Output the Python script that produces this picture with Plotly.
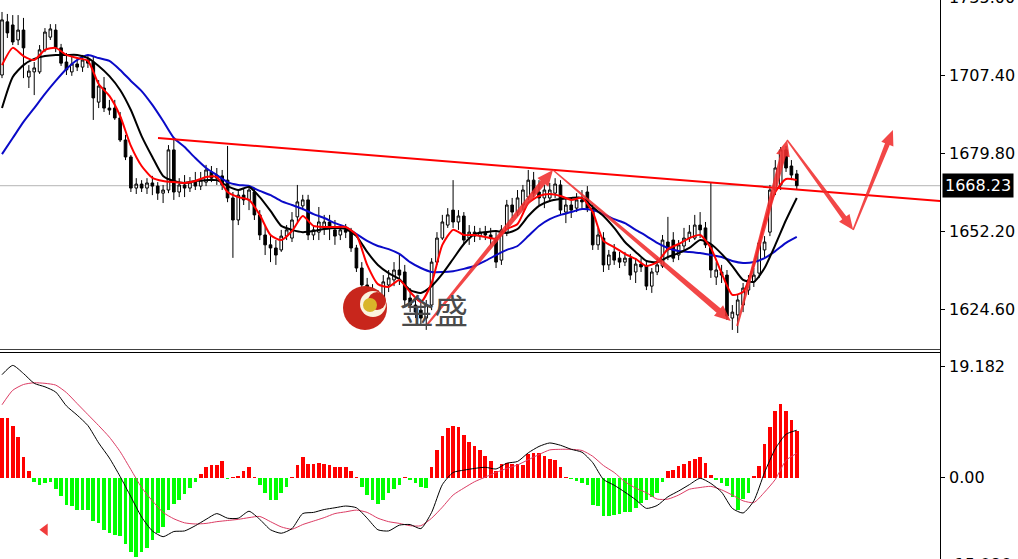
import math
import plotly.graph_objects as go

# ---------------- data ----------------
bar_index = list(range(149))

opens = [1707.4, 1726.2, 1725.1, 1719.8, 1723.3, 1706.7, 1708.5, 1708.5, 1716.3, 1720.8,
         1723.3, 1717.0, 1712.0, 1708.5, 1711.3, 1710.2, 1712.7, 1712.0, 1697.8, 1702.8,
         1695.7, 1695.7, 1692.2, 1684.4, 1678.4, 1667.4, 1668.8, 1667.4, 1669.2, 1668.1,
         1665.6, 1666.7, 1680.9, 1666.0, 1668.5, 1667.4, 1669.5, 1668.1, 1669.5, 1673.1,
         1670.9, 1671.7, 1670.2, 1663.9, 1656.1, 1664.9, 1663.2, 1666.0, 1657.9, 1650.8,
         1647.3, 1646.2, 1645.5, 1650.4, 1649.7, 1657.2, 1661.1, 1663.2, 1650.8, 1651.8,
         1653.3, 1655.4, 1652.6, 1650.8, 1652.6, 1651.8, 1646.2, 1639.1, 1633.1, 1631.3,
         1627.8, 1626.0, 1633.1, 1634.9, 1638.4, 1637.7, 1628.5, 1626.0, 1624.2, 1621.4,
         1626.0, 1641.2, 1649.7, 1654.3, 1659.6, 1655.4, 1657.5, 1649.7, 1651.8, 1650.4,
         1651.8, 1650.8, 1649.7, 1641.9, 1651.8, 1661.4, 1658.9, 1661.4, 1664.2, 1670.2,
         1666.0, 1663.9, 1663.9, 1665.6, 1668.5, 1658.9, 1661.4, 1660.3, 1663.2, 1666.0,
         1660.3, 1647.3, 1649.7, 1640.2, 1644.8, 1642.6, 1641.2, 1642.6, 1637.7, 1640.5,
         1639.8, 1632.7, 1637.7, 1639.8, 1648.3, 1649.0, 1643.7, 1646.9, 1649.7, 1649.7,
         1654.3, 1653.3, 1646.9, 1635.9, 1637.7, 1636.6, 1621.4, 1622.5, 1626.0, 1631.3,
         1634.2, 1637.3, 1645.5, 1651.8, 1666.7, 1668.5, 1680.9, 1675.2, 1672.4]

highs = [1729.7, 1729.0, 1728.6, 1728.6, 1727.6, 1710.9, 1712.0, 1718.0, 1724.0, 1725.4,
         1725.4, 1718.4, 1715.2, 1713.8, 1713.4, 1714.5, 1714.5, 1713.8, 1705.6, 1706.7,
         1698.6, 1698.6, 1694.3, 1686.2, 1679.1, 1670.9, 1670.2, 1670.9, 1671.7, 1669.5,
         1668.5, 1682.6, 1684.4, 1670.9, 1672.0, 1671.3, 1673.1, 1673.1, 1675.6, 1675.2,
         1674.5, 1673.8, 1682.3, 1666.0, 1666.7, 1667.4, 1668.5, 1667.4, 1659.6, 1654.3,
         1650.4, 1649.0, 1652.6, 1654.3, 1658.9, 1668.5, 1665.0, 1665.0, 1654.3, 1660.7,
         1657.9, 1657.9, 1656.1, 1654.3, 1654.7, 1653.3, 1647.3, 1641.2, 1635.6, 1633.4,
         1631.3, 1636.6, 1638.4, 1641.2, 1644.4, 1640.2, 1632.0, 1628.5, 1627.8, 1627.8,
         1642.6, 1651.8, 1657.9, 1660.3, 1670.2, 1659.6, 1658.9, 1654.3, 1654.0, 1653.3,
         1654.0, 1653.3, 1651.8, 1654.3, 1663.2, 1663.9, 1666.7, 1668.5, 1673.8, 1673.1,
         1670.2, 1668.5, 1669.2, 1670.9, 1670.2, 1664.2, 1663.9, 1665.6, 1666.7, 1668.1,
         1661.4, 1653.3, 1651.8, 1645.5, 1647.6, 1644.8, 1644.8, 1644.1, 1642.6, 1642.6,
         1641.2, 1639.1, 1642.6, 1650.8, 1657.2, 1651.8, 1649.0, 1653.3, 1654.3, 1657.9,
         1658.9, 1655.4, 1669.2, 1641.2, 1640.2, 1638.4, 1626.0, 1629.6, 1633.8, 1636.6,
         1639.1, 1649.0, 1650.4, 1668.5, 1677.3, 1681.9, 1682.3, 1677.3, 1673.8]

lows = [1706.3, 1720.5, 1718.0, 1718.0, 1706.3, 1702.8, 1700.3, 1707.8, 1715.5, 1719.8,
        1715.5, 1710.6, 1707.4, 1707.1, 1708.8, 1708.5, 1709.9, 1691.5, 1695.7, 1694.3,
        1693.3, 1691.5, 1683.7, 1677.3, 1666.0, 1665.3, 1666.0, 1665.3, 1664.9, 1663.2,
        1662.1, 1665.6, 1663.2, 1664.2, 1664.2, 1666.0, 1666.7, 1666.7, 1668.1, 1669.5,
        1668.5, 1666.7, 1662.4, 1642.7, 1654.3, 1661.4, 1659.6, 1656.1, 1649.0, 1643.7,
        1641.2, 1640.2, 1644.8, 1649.0, 1648.3, 1655.4, 1659.6, 1649.0, 1649.0, 1649.0,
        1650.8, 1649.0, 1647.3, 1649.0, 1649.7, 1644.8, 1637.7, 1630.6, 1628.5, 1624.2,
        1623.5, 1624.2, 1630.6, 1632.7, 1633.1, 1626.0, 1623.5, 1621.4, 1618.6, 1617.2,
        1624.2, 1640.2, 1649.0, 1653.3, 1653.3, 1652.6, 1647.3, 1647.3, 1648.3, 1649.0,
        1649.0, 1647.3, 1639.1, 1640.2, 1650.4, 1656.8, 1657.5, 1659.6, 1663.2, 1664.2,
        1661.4, 1660.3, 1662.5, 1663.9, 1657.9, 1655.0, 1656.8, 1658.9, 1660.3, 1658.9,
        1645.5, 1645.5, 1637.7, 1638.4, 1640.2, 1639.1, 1639.8, 1634.9, 1633.8, 1637.7,
        1631.3, 1630.3, 1636.6, 1639.1, 1641.9, 1641.2, 1641.9, 1645.5, 1648.3, 1649.0,
        1649.7, 1646.2, 1635.6, 1633.1, 1633.8, 1620.7, 1617.2, 1616.1, 1623.5, 1629.6,
        1632.4, 1635.6, 1642.7, 1650.4, 1664.9, 1666.7, 1673.1, 1670.2, 1666.7]

closes = [1726.9, 1722.3, 1719.1, 1723.3, 1717.0, 1708.8, 1709.9, 1716.3, 1722.6, 1723.7,
          1717.0, 1711.6, 1709.2, 1711.3, 1710.2, 1712.7, 1711.6, 1699.3, 1703.5, 1695.7,
          1695.0, 1692.2, 1684.4, 1678.4, 1667.4, 1668.8, 1667.4, 1669.2, 1668.1, 1665.6,
          1666.7, 1680.9, 1666.0, 1668.5, 1667.4, 1669.5, 1668.1, 1670.2, 1673.8, 1670.9,
          1672.0, 1668.5, 1663.9, 1656.1, 1664.9, 1663.2, 1666.7, 1657.9, 1650.8, 1647.3,
          1646.2, 1643.7, 1650.4, 1652.6, 1656.1, 1662.5, 1663.2, 1650.8, 1652.6, 1655.4,
          1655.4, 1653.3, 1650.4, 1652.6, 1651.8, 1646.2, 1639.1, 1633.1, 1631.3, 1627.8,
          1626.0, 1634.2, 1635.6, 1638.4, 1636.6, 1627.8, 1626.0, 1623.5, 1621.4, 1626.0,
          1641.2, 1649.7, 1655.4, 1657.9, 1655.4, 1657.5, 1649.0, 1651.8, 1650.4, 1651.8,
          1650.8, 1649.7, 1641.2, 1652.6, 1661.4, 1658.9, 1663.9, 1666.7, 1670.2, 1665.6,
          1663.9, 1666.7, 1666.7, 1668.8, 1659.6, 1661.4, 1659.6, 1663.2, 1662.5, 1660.3,
          1647.3, 1650.8, 1640.2, 1643.7, 1641.9, 1641.2, 1642.6, 1636.6, 1640.5, 1639.5,
          1632.7, 1637.7, 1640.2, 1649.0, 1645.5, 1642.6, 1647.3, 1649.7, 1651.8, 1654.3,
          1652.6, 1647.3, 1638.4, 1638.4, 1636.6, 1622.1, 1623.5, 1627.8, 1632.0, 1634.9,
          1636.6, 1648.0, 1648.3, 1666.7, 1674.5, 1680.9, 1674.5, 1672.0, 1668.23]

# moving averages, read at every second bar
ma_index = list(range(0, 149, 2))
ma_fast = [1710.9, 1717.0, 1714.1, 1712.7, 1716.3, 1717.0, 1714.5, 1713.4, 1712.4, 1704.2,
           1700.0, 1692.9, 1682.3, 1675.2, 1671.0, 1669.9, 1669.5, 1669.2, 1669.9, 1671.3,
           1671.3, 1666.0, 1664.2, 1663.2, 1657.9, 1650.8, 1649.0, 1652.2, 1657.5, 1654.0,
           1653.6, 1653.6, 1653.6, 1650.8, 1640.2, 1633.4, 1632.4, 1634.9, 1630.6, 1627.1,
           1633.8, 1647.3, 1652.6, 1650.8, 1650.8, 1650.1, 1649.4, 1652.9, 1654.7, 1662.1,
           1664.6, 1665.3, 1664.6, 1663.2, 1663.9, 1658.9, 1648.7, 1646.5, 1644.1, 1642.3,
           1639.8, 1641.2, 1645.8, 1647.6, 1649.7, 1650.8, 1646.2, 1637.3, 1629.6, 1630.6,
           1640.2, 1655.0, 1666.0, 1670.6, 1670.2]
ma_mid = [1695.7, 1706.7, 1710.9, 1713.1, 1714.1, 1714.5, 1714.5, 1714.5, 1713.4, 1710.6,
          1707.0, 1702.1, 1695.0, 1685.8, 1678.4, 1671.7, 1669.9, 1669.2, 1669.9, 1670.2,
          1670.2, 1668.1, 1666.7, 1667.8, 1664.2, 1659.3, 1654.0, 1652.6, 1651.8, 1652.2,
          1652.9, 1653.3, 1652.9, 1650.4, 1644.8, 1640.2, 1637.3, 1635.2, 1631.3, 1630.3,
          1632.7, 1637.0, 1642.3, 1647.6, 1651.1, 1651.8, 1652.2, 1651.5, 1652.9, 1657.5,
          1661.1, 1662.8, 1663.5, 1663.9, 1663.9, 1660.7, 1657.5, 1653.3, 1648.3, 1644.8,
          1641.6, 1641.2, 1643.0, 1644.4, 1646.2, 1649.0, 1647.6, 1644.1, 1639.8, 1634.9,
          1634.2, 1639.1, 1647.3, 1656.1, 1663.9]
ma_slow = [1679.4, 1685.1, 1690.8, 1695.7, 1700.7, 1705.3, 1709.5, 1712.7, 1714.5, 1713.4,
           1712.4, 1709.2, 1705.3, 1701.7, 1696.8, 1691.1, 1685.1, 1681.9, 1678.0, 1674.5,
           1672.0, 1669.5, 1668.5, 1668.1, 1666.4, 1664.9, 1662.8, 1661.4, 1660.0, 1658.2,
           1656.8, 1655.0, 1653.6, 1651.1, 1648.7, 1646.9, 1645.8, 1644.1, 1641.2, 1639.1,
           1637.7, 1637.7, 1638.0, 1638.8, 1639.8, 1641.6, 1643.7, 1645.5, 1646.9, 1650.4,
           1654.0, 1656.4, 1657.9, 1658.9, 1660.0, 1659.6, 1658.2, 1656.4, 1655.0, 1652.6,
           1650.4, 1648.0, 1646.2, 1645.1, 1644.8, 1644.4, 1643.7, 1643.0, 1641.6, 1640.9,
           1641.2, 1642.6, 1645.1, 1648.0, 1650.1]

# MACD panel
macd_hist = [10.3, 10.3, 8.9, 7.0, 3.6, 1.2, -0.8, -1.2, -0.9, -0.8,
             -2.0, -3.2, -4.8, -4.9, -5.5, -5.6, -5.5, -7.5, -7.9, -9.0,
             -9.5, -9.9, -10.0, -11.4, -12.9, -13.7, -12.9, -12.2, -10.8, -9.5,
             -8.5, -5.5, -4.5, -3.9, -2.8, -1.7, -0.7, 0.6, 1.8, 2.2,
             2.2, 2.8, -0.3, 0.1, 0.3, 1.2, 1.8, 0.1, -1.3, -2.7,
             -3.9, -3.9, -2.7, -1.6, 0.1, 2.2, 3.6, 2.4, 2.4, 2.6,
             2.4, 2.2, 1.8, 1.8, 1.8, 1.2, 0.2, -1.6, -3.0, -3.9,
             -4.6, -3.9, -2.7, -2.0, -1.2, 0.1, -0.4, -1.0, -1.6, -1.8,
             1.8, 4.7, 7.2, 8.5, 8.9, 8.8, 7.4, 6.2, 5.5, 4.7,
             3.7, 2.8, 1.2, 2.4, 2.5, 2.4, 2.4, 2.2, 4.1, 4.2,
             4.2, 3.7, 3.3, 3.0, 1.9, 0.05, -0.3, -0.5, -0.9, -1.3,
             -4.7, -4.9, -6.6, -6.6, -6.5, -6.2, -6.0, -5.9, -5.3, -4.4,
             -3.9, -3.3, -2.7, -0.7, 1.2, 1.4, 2.0, 2.4, 2.8, 3.3,
             3.6, 2.5, 0.5, -0.4, -1.0, -1.4, -3.3, -5.6, -3.6, -2.7,
             0.3, 2.0, 5.9, 8.8, 11.5, 12.8, 11.6, 10.0, 8.1]
macd_main = [17.8, 19.4, 18.0, 16.3, 15.7, 14.8, 12.4, 10.8, 9.0, 6.0,
             3.4, 0.2, -3.3, -6.8, -9.2, -10.2, -9.3, -9.2, -8.3, -7.2,
             -6.2, -7.0, -7.0, -5.8, -7.2, -9.0, -9.6, -8.8, -6.2, -6.0,
             -5.5, -5.2, -4.9, -5.2, -7.0, -9.0, -9.2, -8.2, -8.1, -8.8,
             -6.0, -1.2, 0.9, 1.3, 1.6, 1.8, 1.5, 2.5, 2.8, 4.3,
             5.4, 6.0, 5.6, 4.9, 4.4, 2.6, -0.3, -1.3, -2.5, -3.8,
             -5.3, -4.8, -3.3, -2.3, -1.2, -0.1, -1.0, -2.5, -5.3, -6.1,
             -4.0, 0.9, 5.0, 7.5, 8.2]
macd_signal = [12.6, 15.1, 16.1, 16.4, 16.3, 16.0, 14.7, 12.8, 10.9, 9.0,
               7.0, 4.5, 1.4, -1.7, -4.0, -6.0, -7.1, -7.8, -8.0, -7.9,
               -7.6, -7.4, -7.2, -6.9, -6.7, -7.6, -8.5, -8.9, -8.1, -7.5,
               -6.9, -6.2, -5.9, -5.6, -6.0, -7.0, -7.6, -7.9, -8.3, -8.3,
               -7.0, -5.1, -3.0, -1.8, -0.7, 0.1, 0.9, 1.6, 2.2, 3.1,
               4.0, 4.8, 4.9, 4.9, 4.7, 3.7, 2.1, 0.9, -0.7, -1.8,
               -2.6, -3.7, -3.7, -3.0, -2.0, -1.7, -1.5, -2.1, -3.0, -4.0,
               -4.3, -2.5, -0.3, 3.0, 4.2]

# drawn objects (bar index, price)
trend_line = [(29.05, 1685.1), (174.7, 1662.8)]
arrow_legs = [((79.1, 1618.9), (102.6, 1673.8)),
              ((102.6, 1673.8), (135.7, 1620.4)),
              ((136.9, 1618.6), (146.2, 1684.4)),
              ((146.2, 1684.4), (158.5, 1652.6)),
              ((158.5, 1652.6), (165.9, 1687.9))]
marker_point = (8.0, -9.0)

price_ticks = [1735.00, 1707.40, 1679.80, 1652.20, 1624.60]
macd_ticks = [19.182, 0.0, -15.086]
macd_tick_text = ['19.182', '0.00', '-15.086']
last_price = 1668.23

# ---------------- layout geometry ----------------
FIG_W, FIG_H = 1018, 559
AX_X = 940
MAIN_BOTTOM = 349
SUB_TOP = 354
LABEL_X = 947
xr = [-0.3724, 174.67]
yr_main = [1610.45, 1733.94]
yr_sub = [-14.05, 21.37]
xdom = [0, AX_X / FIG_W]


def data_to_px(i, p):
    X = (i - xr[0]) / (xr[1] - xr[0]) * AX_X
    Y = (yr_main[1] - p) / (yr_main[1] - yr_main[0]) * MAIN_BOTTOM
    return X, Y


def px_to_data(X, Y):
    i = xr[0] + X / AX_X * (xr[1] - xr[0])
    p = yr_main[1] - Y / MAIN_BOTTOM * (yr_main[1] - yr_main[0])
    return i, p


def main_paper_y(p):
    return 1 - data_to_px(0, p)[1] / FIG_H


def sub_paper_y(v):
    py = SUB_TOP + (yr_sub[1] - v) / (yr_sub[1] - yr_sub[0]) * (FIG_H - SUB_TOP)
    return 1 - py / FIG_H


def arrow_poly(a, b, w0, w1, hl, hw):
    ax_, ay_ = data_to_px(*a)
    bx_, by_ = data_to_px(*b)
    dx, dy = bx_ - ax_, by_ - ay_
    L = math.hypot(dx, dy)
    ux, uy = dx / L, dy / L
    nx, ny = -uy, ux
    cx, cy = bx_ - ux * hl, by_ - uy * hl
    pts = [(ax_ + nx * w0 / 2, ay_ + ny * w0 / 2),
           (cx + nx * w1 / 2, cy + ny * w1 / 2),
           (cx + nx * hw / 2, cy + ny * hw / 2),
           (bx_, by_),
           (cx - nx * hw / 2, cy - ny * hw / 2),
           (cx - nx * w1 / 2, cy - ny * w1 / 2),
           (ax_ - nx * w0 / 2, ay_ - ny * w0 / 2)]
    pts.append(pts[0])
    d = [px_to_data(X, Y) for X, Y in pts]
    return [q[0] for q in d], [q[1] for q in d]


fig = go.Figure()

fig.add_trace(go.Candlestick(
    x=bar_index, open=opens, high=highs, low=lows, close=closes,
    increasing=dict(line=dict(color='black', width=1), fillcolor='white'),
    decreasing=dict(line=dict(color='black', width=1), fillcolor='black'),
    whiskerwidth=0, xaxis='x', yaxis='y', hoverinfo='skip'))

for vals, col in [(ma_slow, '#0a0ac8'), (ma_mid, '#000000'), (ma_fast, '#ff0000')]:
    fig.add_trace(go.Scatter(x=ma_index, y=vals, mode='lines',
                             line=dict(color=col, width=2, shape='spline', smoothing=0.6),
                             xaxis='x', yaxis='y', hoverinfo='skip'))

fig.add_trace(go.Scatter(x=[p[0] for p in trend_line], y=[p[1] for p in trend_line],
                         mode='lines', line=dict(color='#ff0000', width=2),
                         xaxis='x', yaxis='y', hoverinfo='skip'))

arrow_styles = [(2, 6, 16, 14), (1.5, 6, 16, 14), (2, 6, 16, 14), (1.5, 5, 15, 13), (1.5, 5, 15, 13)]
for (a, b), (w0, w1, hl, hw) in zip(arrow_legs, arrow_styles):
    xs, ys = arrow_poly(a, b, w0, w1, hl, hw)
    fig.add_trace(go.Scatter(x=xs, y=ys, mode='lines', fill='toself',
                             fillcolor='rgba(240,45,45,0.88)', line=dict(width=0),
                             xaxis='x', yaxis='y', hoverinfo='skip'))

# MACD
fig.add_trace(go.Bar(x=bar_index, y=macd_hist,
                     marker=dict(color=['#ff0000' if v >= 0 else '#00ff00' for v in macd_hist],
                                 line=dict(width=0)),
                     width=0.68, xaxis='x2', yaxis='y2', hoverinfo='skip'))
fig.add_trace(go.Scatter(x=ma_index, y=macd_signal, mode='lines',
                         line=dict(color='#dc3c64', width=1, shape='spline', smoothing=0.6),
                         xaxis='x2', yaxis='y2', hoverinfo='skip'))
fig.add_trace(go.Scatter(x=ma_index, y=macd_main, mode='lines',
                         line=dict(color='#000000', width=1, shape='spline', smoothing=0.6),
                         xaxis='x2', yaxis='y2', hoverinfo='skip'))
fig.add_trace(go.Scatter(x=[marker_point[0]], y=[marker_point[1]], mode='markers',
                         marker=dict(symbol='triangle-left', size=11, color='#f03c3c'),
                         xaxis='x2', yaxis='y2', hoverinfo='skip'))

tick_font = dict(family='DejaVu Sans', size=16, color='black')

fig.update_layout(
    width=FIG_W, height=FIG_H, margin=dict(l=0, r=0, t=0, b=0, autoexpand=False),
    paper_bgcolor='white', plot_bgcolor='white', showlegend=False,
    bargap=0, hovermode=False,
    xaxis=dict(domain=xdom, range=xr, showticklabels=False, showgrid=False, zeroline=False,
               rangeslider=dict(visible=False), anchor='y', automargin=False),
    yaxis=dict(domain=[1 - MAIN_BOTTOM / FIG_H, 1], range=yr_main, side='right',
               tickvals=price_ticks, showticklabels=False,
               ticks='outside', ticklen=4, tickcolor='black',
               showline=True, linecolor='black', linewidth=1, showgrid=False, zeroline=False,
               anchor='x', automargin=False),
    xaxis2=dict(domain=xdom, range=xr, showticklabels=False, showgrid=False, zeroline=False,
                anchor='y2', matches='x', automargin=False),
    yaxis2=dict(domain=[0, 1 - SUB_TOP / FIG_H], range=yr_sub, side='right',
                tickvals=macd_ticks, showticklabels=False,
                ticks='outside', ticklen=4, tickcolor='black',
                showline=True, linecolor='black', linewidth=1, showgrid=False, zeroline=False,
                anchor='x2', automargin=False),
)

shapes = []
# current price line
shapes.append(dict(type='line', xref='paper', yref='y', x0=0, x1=AX_X / FIG_W,
                   y0=last_price, y1=last_price, line=dict(color='#b4b4b4', width=1), layer='below'))
# panel separator
for yy, col in [(349.5, '#404040'), (352.5, '#000000')]:
    shapes.append(dict(type='line', xref='paper', yref='paper', x0=0, x1=AX_X / FIG_W,
                       y0=1 - yy / FIG_H, y1=1 - yy / FIG_H, line=dict(color=col, width=1)))
shapes.append(dict(type='line', xref='paper', yref='paper', x0=(AX_X + 0.5) / FIG_W, x1=(AX_X + 0.5) / FIG_W,
                   y0=0, y1=1, line=dict(color='black', width=1)))


def circ(cx, cy, r, color):
    return dict(type='circle', xref='paper', yref='paper',
                x0=(cx - r) / FIG_W, x1=(cx + r) / FIG_W,
                y0=1 - (cy + r) / FIG_H, y1=1 - (cy - r) / FIG_H,
                fillcolor=color, line=dict(width=0), layer='above')


# watermark logo
shapes.append(circ(365, 308, 22, '#c8261c'))
shapes.append(circ(373, 304, 13, '#fbf3df'))
shapes.append(circ(377, 301, 9, '#c8261c'))
shapes.append(circ(370, 305, 7, '#d9b52a'))
fig.update_layout(shapes=shapes)

annotations = []
for v in price_ticks:
    annotations.append(dict(xref='paper', yref='paper', x=LABEL_X / FIG_W, y=main_paper_y(v),
                            xanchor='left', yanchor='middle', text='%.2f' % v,
                            showarrow=False, font=tick_font))
for v, t in zip(macd_ticks, macd_tick_text):
    annotations.append(dict(xref='paper', yref='paper', x=LABEL_X / FIG_W, y=sub_paper_y(v),
                            xanchor='left', yanchor='middle', text=t,
                            showarrow=False, font=tick_font))
annotations.append(dict(xref='paper', yref='y', x=942 / FIG_W, y=last_price, xanchor='left',
                        yanchor='middle', text='%.2f' % last_price, showarrow=False, bgcolor='black',
                        font=dict(family='DejaVu Sans', size=16, color='white'), borderpad=2))
annotations.append(dict(xref='paper', yref='paper', x=434 / FIG_W, y=1 - 309 / FIG_H,
                        xanchor='center', yanchor='middle', text='金盛', showarrow=False,
                        font=dict(family='Noto Sans CJK SC', size=34, color='#4a4a4a')))
fig.update_layout(annotations=annotations)

fig.write_html('out.html', config={'displayModeBar': False, 'staticPlot': True},
               post_script="document.body.style.margin='0px';document.body.style.overflow='hidden';")
